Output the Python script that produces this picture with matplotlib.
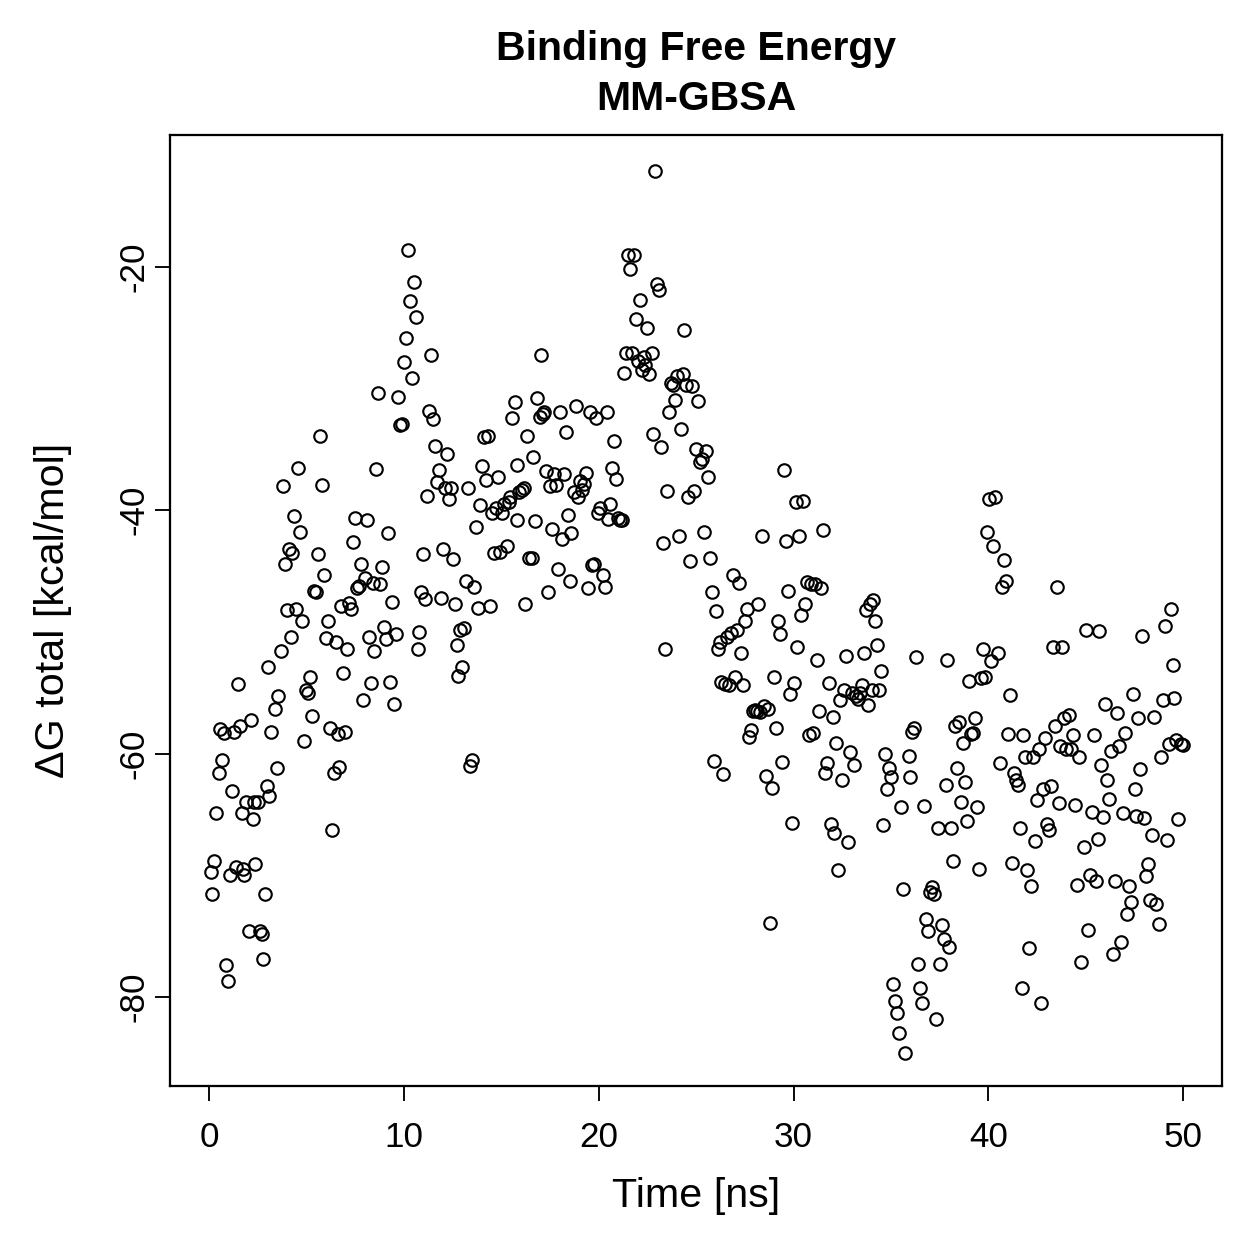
import matplotlib
matplotlib.use("Agg")
import matplotlib.pyplot as plt

# time [ns] and dG total [kcal/mol]
time_ns = [
    0.10, 0.15, 0.26, 0.36, 0.50, 0.56, 0.67, 0.77, 0.87, 0.97,
    1.08, 1.18, 1.28, 1.38, 1.49, 1.60, 1.69, 1.74, 1.79, 1.90,
    2.05, 2.15, 2.25, 2.30, 2.36, 2.51, 2.60, 2.71, 2.77, 2.87,
    2.97, 3.02, 3.10, 3.20, 3.40, 3.50, 3.55, 3.70, 3.80, 3.90,
    4.00, 4.10, 4.20, 4.25, 4.35, 4.45, 4.56, 4.66, 4.76, 4.87,
    5.00, 5.07, 5.17, 5.28, 5.38, 5.48, 5.58, 5.69, 5.79, 5.89,
    6.00, 6.10, 6.20, 6.30, 6.40, 6.50, 6.60, 6.66, 6.76, 6.86,
    6.97, 7.07, 7.17, 7.27, 7.38, 7.48, 7.58, 7.68, 7.79, 7.89,
    8.00, 8.10, 8.20, 8.30, 8.40, 8.45, 8.56, 8.66, 8.76, 8.86,
    8.97, 9.07, 9.17, 9.27, 9.38, 9.48, 9.58, 9.68, 9.78, 9.89,
    9.99, 10.10, 10.20, 10.30, 10.40, 10.50, 10.60, 10.70, 10.80, 10.90,
    11.00, 11.10, 11.20, 11.30, 11.40, 11.50, 11.60, 11.70, 11.80, 11.90,
    12.00, 12.10, 12.20, 12.30, 12.40, 12.50, 12.60, 12.70, 12.80, 12.90,
    13.00, 13.10, 13.20, 13.30, 13.40, 13.50, 13.60, 13.70, 13.80, 13.90,
    14.00, 14.10, 14.20, 14.30, 14.40, 14.50, 14.60, 14.75, 14.85, 14.95,
    15.06, 15.16, 15.27, 15.37, 15.47, 15.57, 15.68, 15.78, 15.83, 15.93,
    16.04, 16.14, 16.24, 16.34, 16.44, 16.55, 16.65, 16.75, 16.85, 16.96,
    17.06, 17.16, 17.20, 17.30, 17.40, 17.50, 17.60, 17.70, 17.80, 17.90,
    18.00, 18.10, 18.20, 18.30, 18.40, 18.50, 18.60, 18.75, 18.85, 18.95,
    19.06, 19.16, 19.26, 19.36, 19.47, 19.57, 19.67, 19.77, 19.88, 19.98,
    20.08, 20.20, 20.30, 20.40, 20.50, 20.60, 20.70, 20.80, 20.90, 21.00,
    21.10, 21.20, 21.30, 21.40, 21.50, 21.60, 21.70, 21.80, 21.90, 22.00,
    22.10, 22.20, 22.30, 22.40, 22.50, 22.60, 22.75, 22.80, 22.90, 23.00,
    23.10, 23.20, 23.30, 23.40, 23.50, 23.60, 23.70, 23.80, 23.90, 24.00,
    24.10, 24.20, 24.30, 24.40, 24.50, 24.60, 24.70, 24.80, 24.90, 25.00,
    25.10, 25.20, 25.30, 25.40, 25.50, 25.60, 25.70, 25.80, 25.90, 26.00,
    26.10, 26.20, 26.30, 26.40, 26.50, 26.60, 26.70, 26.80, 26.90, 27.00,
    27.10, 27.20, 27.30, 27.40, 27.50, 27.60, 27.70, 27.80, 27.90, 28.00,
    28.10, 28.20, 28.30, 28.40, 28.50, 28.60, 28.70, 28.80, 28.90, 29.00,
    29.10, 29.20, 29.30, 29.40, 29.50, 29.60, 29.70, 29.80, 29.90, 30.00,
    30.10, 30.20, 30.30, 30.40, 30.50, 30.60, 30.70, 30.80, 30.90, 31.00,
    31.10, 31.20, 31.30, 31.40, 31.50, 31.60, 31.70, 31.80, 31.90, 32.00,
    32.10, 32.20, 32.30, 32.40, 32.50, 32.60, 32.70, 32.80, 32.90, 33.00,
    33.10, 33.20, 33.30, 33.40, 33.50, 33.60, 33.70, 33.80, 33.90, 34.00,
    34.10, 34.20, 34.30, 34.40, 34.50, 34.60, 34.70, 34.80, 34.90, 35.00,
    35.10, 35.20, 35.30, 35.40, 35.50, 35.60, 35.70, 35.90, 36.00, 36.10,
    36.20, 36.30, 36.40, 36.50, 36.60, 36.70, 36.80, 36.90, 37.00, 37.10,
    37.20, 37.30, 37.40, 37.50, 37.60, 37.70, 37.80, 37.90, 38.00, 38.10,
    38.20, 38.30, 38.40, 38.50, 38.60, 38.70, 38.80, 38.90, 39.00, 39.10,
    39.20, 39.30, 39.40, 39.50, 39.60, 39.70, 39.80, 39.95, 40.05, 40.15,
    40.25, 40.35, 40.50, 40.60, 40.70, 40.80, 40.90, 41.00, 41.10, 41.20,
    41.30, 41.40, 41.50, 41.60, 41.70, 41.80, 41.90, 42.00, 42.10, 42.20,
    42.30, 42.40, 42.50, 42.60, 42.70, 42.80, 42.90, 43.00, 43.10, 43.20,
    43.30, 43.40, 43.50, 43.60, 43.70, 43.80, 43.90, 44.00, 44.15, 44.25,
    44.35, 44.45, 44.55, 44.65, 44.75, 44.90, 45.00, 45.10, 45.20, 45.30,
    45.40, 45.50, 45.60, 45.70, 45.80, 45.90, 46.00, 46.10, 46.20, 46.30,
    46.40, 46.50, 46.60, 46.70, 46.80, 46.90, 47.00, 47.10, 47.20, 47.30,
    47.40, 47.50, 47.60, 47.70, 47.80, 47.90, 48.00, 48.10, 48.20, 48.30,
    48.40, 48.50, 48.60, 48.75, 48.85, 48.95, 49.05, 49.15, 49.25, 49.35,
    49.45, 49.55, 49.65, 49.75, 49.90, 50.00,
]

dG_total = [
    -69.7, -71.5, -68.8, -64.9, -61.6, -58.0, -60.5, -58.3, -77.4, -78.7,
    -70.0, -63.1, -58.2, -69.3, -54.3, -57.7, -64.9, -69.5, -70.0, -64.0,
    -74.6, -57.2, -65.4, -64.0, -69.1, -64.0, -74.6, -74.8, -76.9, -71.5,
    -62.7, -52.9, -63.5, -58.2, -56.3, -61.2, -55.3, -51.6, -38.0, -44.4,
    -48.2, -43.2, -50.4, -43.5, -40.5, -48.1, -36.5, -41.8, -49.1, -59.0,
    -54.8, -55.0, -53.7, -56.9, -46.6, -46.7, -43.6, -33.9, -37.9, -45.3,
    -50.5, -49.1, -57.9, -66.3, -61.6, -50.8, -58.4, -61.1, -47.9, -53.4,
    -58.2, -51.4, -47.6, -48.1, -42.6, -40.6, -46.4, -46.2, -44.4, -55.6,
    -45.6, -40.8, -50.4, -54.2, -46.0, -51.6, -36.6, -30.4, -46.1, -44.7,
    -49.6, -50.6, -41.9, -54.1, -47.5, -55.9, -50.2, -30.7, -33.0, -32.9,
    -27.8, -25.8, -18.6, -22.8, -29.1, -21.2, -24.1, -51.4, -50.0, -46.7,
    -43.6, -47.3, -38.8, -31.8, -27.2, -32.5, -34.7, -37.7, -36.7, -47.2,
    -43.2, -38.2, -35.4, -39.1, -38.2, -44.0, -47.7, -51.1, -53.6, -49.8,
    -52.9, -49.7, -45.8, -38.2, -61.0, -60.5, -46.3, -41.4, -48.0, -39.6,
    -36.4, -34.0, -37.5, -33.9, -47.9, -40.2, -43.5, -39.8, -37.3, -43.4,
    -40.2, -39.5, -42.9, -39.3, -38.9, -32.4, -31.1, -36.3, -40.8, -38.5,
    -38.3, -38.2, -47.7, -33.9, -43.9, -43.9, -35.6, -40.9, -30.8, -32.3,
    -27.2, -32.1, -31.9, -36.8, -46.7, -38.0, -41.5, -37.0, -37.9, -44.8,
    -31.9, -42.4, -37.0, -33.6, -40.4, -45.8, -41.9, -38.5, -31.4, -38.9,
    -37.6, -38.3, -37.8, -36.9, -46.4, -31.9, -44.5, -44.4, -32.4, -40.2,
    -39.8, -45.3, -46.3, -31.9, -40.7, -39.5, -36.5, -34.3, -37.4, -40.6,
    -40.8, -40.8, -28.7, -27.1, -19.0, -20.2, -27.1, -19.0, -24.3, -27.7,
    -22.7, -28.5, -27.4, -28.1, -25.0, -28.8, -27.1, -33.7, -12.1, -21.4,
    -21.9, -34.8, -42.7, -51.4, -38.4, -31.9, -29.5, -29.7, -30.9, -29.0,
    -42.1, -33.3, -28.8, -25.2, -29.7, -38.9, -44.2, -29.8, -38.4, -35.0,
    -31.0, -36.0, -35.8, -41.8, -35.1, -37.3, -43.9, -46.7, -60.6, -48.3,
    -51.4, -50.8, -54.1, -61.7, -54.3, -50.4, -54.4, -50.1, -45.3, -53.7,
    -49.8, -46.0, -51.7, -54.4, -49.1, -48.1, -58.6, -58.1, -56.5, -56.4,
    -56.5, -47.7, -56.6, -42.1, -56.1, -61.8, -56.3, -73.9, -62.8, -53.7,
    -57.9, -49.1, -50.2, -60.7, -36.7, -42.5, -46.6, -55.1, -65.7, -54.2,
    -39.3, -51.2, -42.1, -48.6, -39.2, -47.7, -45.9, -58.5, -46.1, -58.3,
    -46.1, -52.3, -56.5, -46.4, -41.6, -61.6, -60.8, -54.2, -65.8, -57.0,
    -66.5, -59.1, -69.6, -55.6, -62.2, -54.8, -52.0, -67.3, -59.9, -55.0,
    -60.9, -55.3, -55.5, -55.0, -54.4, -51.7, -48.2, -56.0, -47.7, -54.8,
    -47.4, -49.1, -51.1, -54.8, -53.2, -65.9, -60.0, -62.9, -61.2, -61.9,
    -78.9, -80.3, -81.3, -83.0, -64.4, -71.1, -84.6, -60.2, -61.9, -58.2,
    -57.9, -52.1, -77.3, -79.3, -80.5, -64.3, -73.6, -74.6, -71.4, -71.0,
    -71.5, -81.8, -66.1, -77.3, -74.1, -75.2, -62.6, -52.3, -75.9, -66.1,
    -68.8, -57.7, -61.2, -57.4, -64.0, -59.1, -62.3, -65.5, -54.0, -58.4,
    -58.3, -57.1, -64.4, -69.5, -53.8, -51.4, -53.7, -41.8, -39.1, -52.4,
    -42.9, -38.9, -51.7, -60.8, -46.3, -44.1, -45.8, -58.4, -55.2, -69.0,
    -61.6, -62.2, -62.6, -66.1, -79.3, -58.5, -60.3, -69.6, -76.0, -70.9,
    -60.3, -67.2, -63.8, -59.6, -80.5, -62.9, -58.7, -65.8, -66.3, -62.7,
    -51.2, -57.7, -46.3, -64.1, -59.4, -51.2, -57.1, -59.6, -56.8, -59.6,
    -58.5, -64.2, -70.8, -60.3, -77.1, -67.7, -49.8, -74.5, -70.0, -64.8,
    -58.5, -70.5, -67.0, -49.9, -60.9, -65.2, -55.9, -62.2, -63.7, -59.8,
    -76.5, -70.5, -56.7, -59.4, -75.5, -64.9, -58.3, -73.2, -70.9, -72.2,
    -55.1, -62.9, -65.1, -57.1, -61.3, -50.3, -65.3, -70.1, -69.1, -72.0,
    -66.7, -57.0, -72.4, -74.0, -60.3, -55.6, -49.5, -67.1, -59.2, -48.1,
    -52.7, -55.4, -58.9, -65.4, -59.2, -59.3,
]

x_ticks = [0, 10, 20, 30, 40, 50]
y_ticks = [-20, -40, -60, -80]

plt.rcParams['font.family'] = ['Liberation Sans', 'DejaVu Sans']

fig = plt.figure(figsize=(7, 7), dpi=180)
ax = fig.add_axes([0.135, 0.138, 0.835, 0.755])

ax.plot(time_ns, dG_total, linestyle='none', marker='o', markersize=5.0,
        markerfacecolor='none', markeredgecolor='black', markeredgewidth=0.85)

ax.set_xlim(-2, 52)
ax.set_ylim(-87.33, -9.14)
ax.set_xticks(x_ticks)
ax.set_yticks(y_ticks)
ax.set_yticklabels([str(v) for v in y_ticks], rotation=90, va='center')

ax.tick_params(axis='both', which='major', length=6, width=0.75, labelsize=14,
               direction='out')
ax.tick_params(axis='x', pad=8)
ax.tick_params(axis='y', pad=2)

for s in ax.spines.values():
    s.set_linewidth(0.9)

ax.set_xlabel('Time [ns]', fontsize=16.5, labelpad=9)
ax.set_ylabel('ΔG total [kcal/mol]', fontsize=16.5, labelpad=18)
ax.set_title('Binding Free Energy\nMM-GBSA', fontsize=16.4, fontweight='bold',
             linespacing=1.4, pad=10)

fig.savefig('out.png', dpi=180)
